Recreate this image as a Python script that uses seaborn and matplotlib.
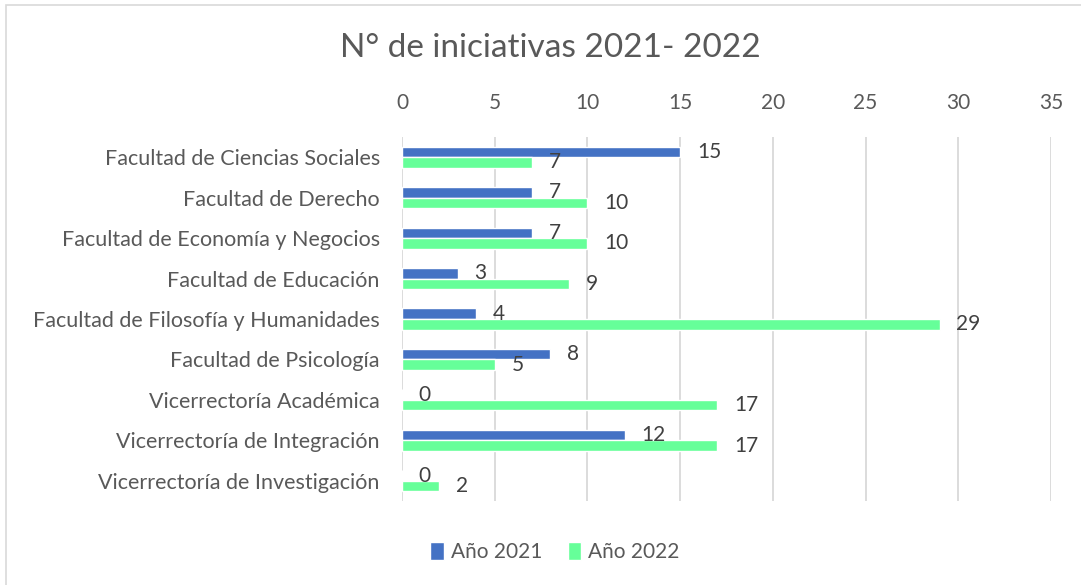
import pandas as pd
import seaborn as sns
import matplotlib.pyplot as plt
from matplotlib.patches import Rectangle

categories = ["Facultad de Ciencias Sociales", "Facultad de Derecho",
              "Facultad de Economía y Negocios", "Facultad de Educación",
              "Facultad de Filosofía y Humanidades", "Facultad de Psicología",
              "Vicerrectoría Académica", "Vicerrectoría de Integración",
              "Vicerrectoría de Investigación"]
values_2021 = [15, 7, 7, 3, 4, 8, 0, 12, 0]
values_2022 = [7, 10, 10, 9, 29, 5, 17, 17, 2]
series_names = ["Año 2021", "Año 2022"]
colors = ["#4472C4", "#66FF99"]

df = pd.DataFrame({
    "categoria": categories * 2,
    "valor": values_2021 + values_2022,
    "serie": [series_names[0]] * len(categories) + [series_names[1]] * len(categories),
})

sns.set_style("white")
plt.rcParams["font.family"] = ["Lato", "DejaVu Sans"]
text_col = "#595959"

fig = plt.figure(figsize=(10.81, 5.85), dpi=100)
ax = fig.add_axes([402 / 1081, 1 - 501 / 585, 649 / 1081, 364 / 585])

sns.barplot(data=df, y="categoria", x="valor", hue="serie", orient="h",
            palette=colors, width=0.52, saturation=1, ax=ax, legend=True)

ax.set_xlim(0, 35)
ax.set_ylim(8.5, -0.5)
ax.set_xticks(range(0, 36, 5))
ax.xaxis.tick_top()
ax.tick_params(axis="x", length=0, pad=17, labelsize=15, labelcolor=text_col)
ax.tick_params(axis="y", length=0, pad=16, labelsize=15.5, labelcolor=text_col)
ax.grid(axis="x", color="#D9D9D9", linewidth=1.3)
ax.set_axisbelow(True)
for s in ax.spines.values():
    s.set_visible(False)
ax.set_xlabel("")
ax.set_ylabel("")

for cont in ax.containers:
    ax.bar_label(cont, padding=12, fontsize=15, color="#404040")

ax.legend(loc="center", ncol=2, frameon=False, fontsize=15, handlelength=0.65,
          handleheight=1.0, handletextpad=0.35, columnspacing=1.2,
          labelcolor=text_col)
ax.get_legend().set_bbox_to_anchor((555 / 1081, 1 - 552 / 585), transform=fig.transFigure)

fig.text(550 / 1081, 1 - 48 / 585, "N° de iniciativas 2021- 2022", ha="center",
         va="center", fontsize=24, color=text_col)

fig.patches.append(Rectangle((6 / 1081, -0.05), 1.2, 1 - 5 / 585 + 0.05,
                             transform=fig.transFigure, fill=False,
                             edgecolor="#D9D9D9", linewidth=1.2))

fig.savefig("out.png", dpi=100)
